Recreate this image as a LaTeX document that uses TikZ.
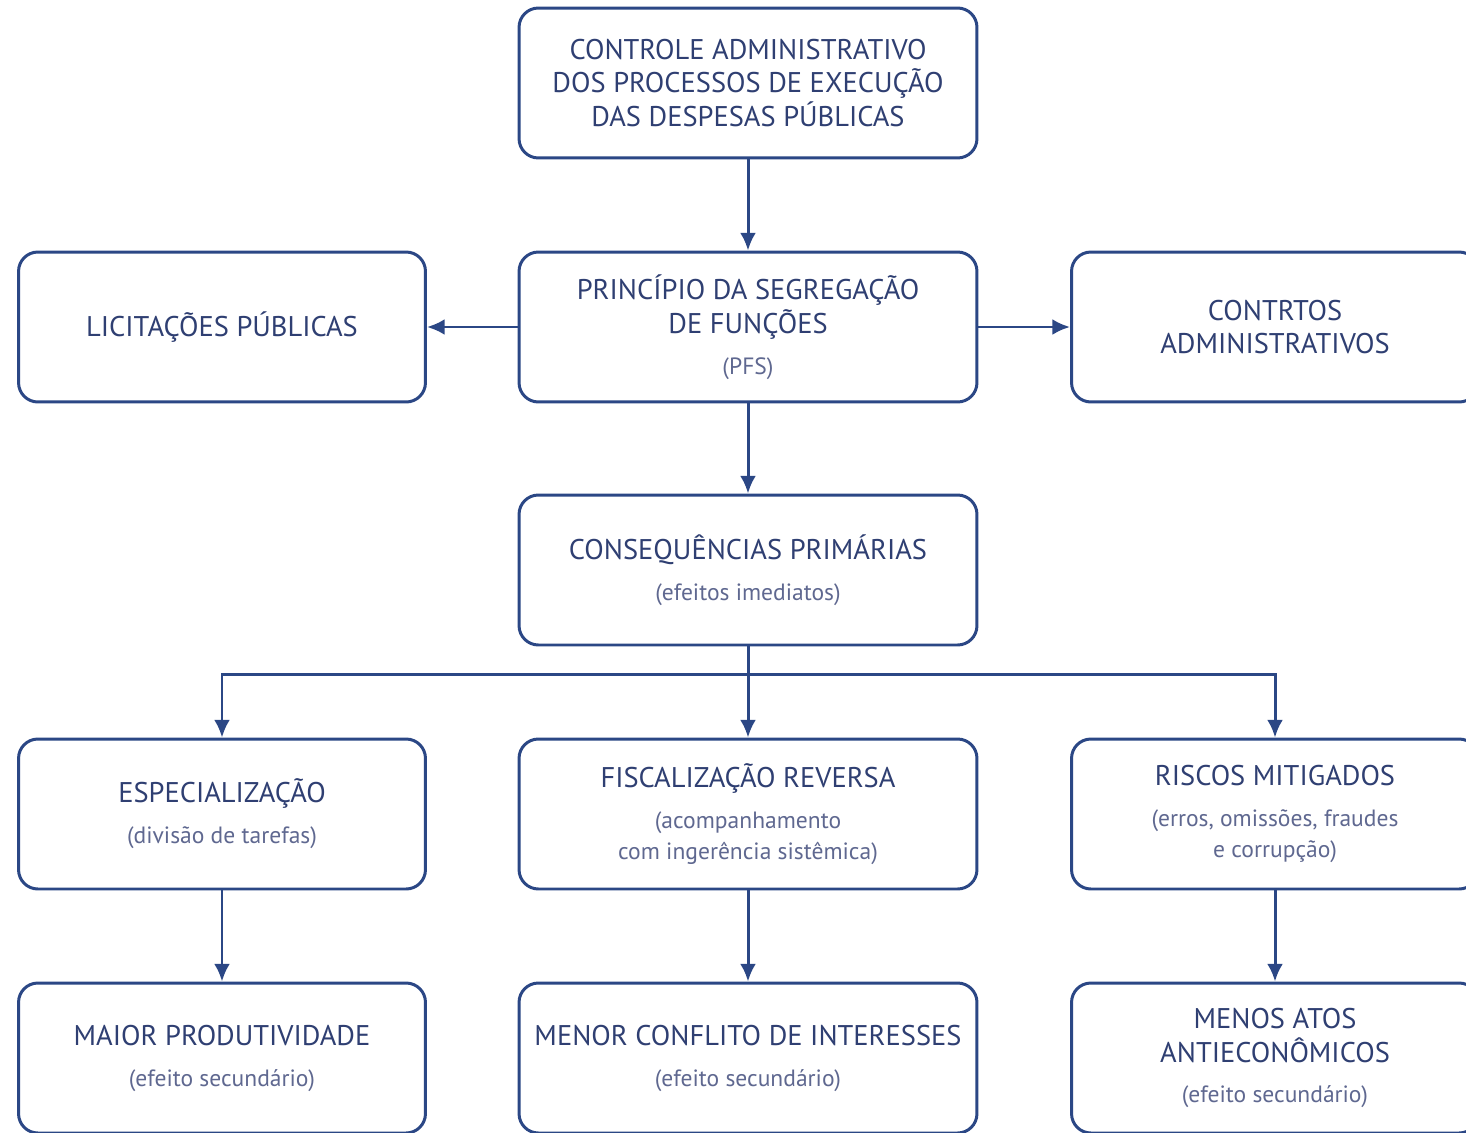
\documentclass[tikz,border=0pt]{standalone}
\usepackage{fontspec}
\setmainfont{PT Sans}
\usetikzlibrary{arrows.meta,positioning,calc}
\definecolor{azul}{HTML}{2B4785}
\definecolor{titulo}{HTML}{2F3F72}
\definecolor{subtit}{HTML}{5F6890}
\newcommand{\obs}[1]{{\fontsize{13.4}{17}\selectfont\color{subtit}#1}}
\tikzset{
  caixa/.style={draw=azul,line width=1.7pt,rounded corners=11pt,fill=white,
    minimum width=8.14cm,minimum height=3cm,align=center,text=titulo,
    font=\fontsize{16.2}{19.3}\selectfont},
  larga/.style={caixa,minimum width=9.16cm},
  seta/.style={-{Latex[length=10pt,width=9pt]},draw=azul,line width=1.7pt},
}

\begin{document}
\begin{tikzpicture}[x=0.02cm,y=-0.02cm]%
\useasboundingbox (0,0) rectangle (1466,1132);
\clip (0,0) rectangle (1466,1132);
%% CAIXAS
\node[larga] (topo) at (748,83) {CONTROLE ADMINISTRATIVO\\DOS PROCESSOS DE EXECUÇÃO\\DAS DESPESAS PÚBLICAS};
\node[larga] (pfs) at (748,327) {PRINCÍPIO DA SEGREGAÇÃO\\DE FUNÇÕES\\[4pt]\obs{(PFS)}};
\node[caixa] (licit) at (222,327) {LICITAÇÕES PÚBLICAS};
\node[caixa] (contr) at (1275,327) {CONTRTOS\\ADMINISTRATIVOS};
\node[larga] (conseq) at (748,570) {CONSEQUÊNCIAS PRIMÁRIAS\\[4pt]\obs{(efeitos imediatos)}};
\node[caixa] (espec) at (222,814) {ESPECIALIZAÇÃO\\[4pt]\obs{(divisão de tarefas)}};
\node[larga] (fisc) at (748,814) {FISCALIZAÇÃO REVERSA\\[4pt]\obs{(acompanhamento}\\[-2pt]\obs{com ingerência sistêmica)}};
\node[caixa] (riscos) at (1275,814) {RISCOS MITIGADOS\\[4pt]\obs{(erros, omissões, fraudes}\\[-2pt]\obs{e corrupção)}};
\node[caixa] (produt) at (222,1058) {MAIOR PRODUTIVIDADE\\[4pt]\obs{(efeito secundário)}};
\node[larga] (conflito) at (748,1058) {MENOR CONFLITO DE INTERESSES\\[4pt]\obs{(efeito secundário)}};
\node[caixa] (antieco) at (1275,1058) {MENOS ATOS\\ANTIECONÔMICOS\\[4pt]\obs{(efeito secundário)}};
%% SETAS
\draw[seta] (topo.south)--(pfs.north);
\draw[seta] (pfs.west)--(licit.east);
\draw[seta] (pfs.east)--(contr.west);
\draw[seta] (pfs.south)--(conseq.north);
\draw[seta] (conseq.south)--(fisc.north);
\coordinate (ramo) at ($(conseq.south)+(0,28)$);
\draw[seta] (ramo) -| (espec.north);
\draw[seta] (ramo) -| (riscos.north);
\draw[seta] (espec.south)--(produt.north);
\draw[seta] (fisc.south)--(conflito.north);
\draw[seta] (riscos.south)--(antieco.north);
\end{tikzpicture}
\end{document}
